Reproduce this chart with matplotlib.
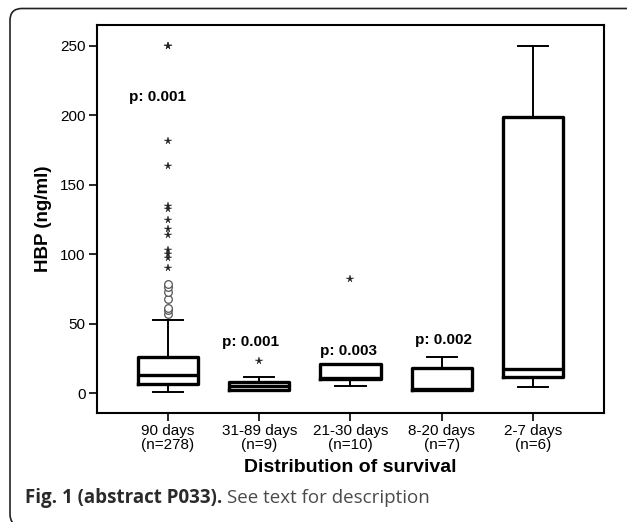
import matplotlib
matplotlib.use("Agg")
import matplotlib.pyplot as plt
from matplotlib.patches import FancyBboxPatch
from matplotlib.transforms import IdentityTransform

plt.rcParams['font.family'] = ['Liberation Sans', 'DejaVu Sans']

# groups and box summaries
groups = ["90 days\n(n=278)", "31-89 days\n(n=9)", "21-30 days\n(n=10)",
          "8-20 days\n(n=7)", "2-7 days\n(n=6)"]
whislo = [1.2, 2.4, 5.3, 2.2, 4.3]
q1 = [6.5, 2.6, 10.2, 2.4, 12.0]
med = [13.2, 5.3, 11.0, 3.0, 17.3]
q3 = [26.3, 8.1, 20.9, 18.0, 199.0]
whishi = [52.6, 11.9, 20.9, 26.1, 250.0]

# outliers: circles (mild) and stars (extreme), per group index
circle_grp = [0, 0, 0, 0, 0, 0, 0]
circle_val = [57.4, 59.8, 61.7, 67.5, 73.0, 76.6, 78.5]
star_grp = [0, 0, 0, 0, 0, 0, 0, 0, 0, 0, 0, 0, 0, 1, 2]
star_val = [90.2, 97.6, 100.5, 102.9, 113.6, 118.0, 124.4, 132.8, 134.7,
            163.4, 181.8, 250.0, 250.0, 23.3, 82.0]

# p-value annotations
p_text = ["p: 0.001", "p: 0.001", "p: 0.003", "p: 0.002"]
p_x = [0.89, 1.91, 2.98, 4.02]
p_y = [213, 37, 30.7, 38.4]

yticks = [0, 50, 100, 150, 200, 250]

fig = plt.figure(figsize=(6.27, 5.22), dpi=100)
ax = fig.add_axes([0.1542, 0.2082, 0.8096, 0.7439])

pos = list(range(1, len(groups) + 1))
stats = []
for i in range(len(groups)):
    stats.append(dict(whislo=whislo[i], q1=q1[i], med=med[i], q3=q3[i],
                      whishi=whishi[i], fliers=[]))

ax.bxp(stats, positions=pos, widths=0.66, capwidths=0.33, showfliers=False,
       boxprops=dict(color='black', linewidth=2.4),
       medianprops=dict(color='black', linewidth=2.4),
       whiskerprops=dict(color='black', linewidth=1.4),
       capprops=dict(color='black', linewidth=1.4))

ax.plot([pos[g] for g in circle_grp], circle_val, linestyle='none', marker='o',
        markersize=5.5, markerfacecolor='white', markeredgecolor='#555555',
        markeredgewidth=0.9)
ax.plot([pos[g] for g in star_grp], star_val, linestyle='none', marker='*',
        markersize=5.5, color='#222222', markeredgewidth=0.3)

for t, x, y in zip(p_text, p_x, p_y):
    ax.text(x, y, t, ha='center', va='center', fontsize=11, fontweight='bold')

ax.set_xlim(0.22, 5.78)
ax.set_ylim(-14.4, 265)
ax.set_yticks(yticks)
ax.set_xticks(pos)
ax.set_xticklabels(groups, fontsize=11, linespacing=0.95)
ax.tick_params(axis='y', labelsize=11)
ax.tick_params(direction='out', length=6, width=1.2, pad=2)
for s in ax.spines.values():
    s.set_linewidth(1.5)

ax.set_xlabel("Distribution of survival", fontsize=14, fontweight='bold',
              labelpad=5)
ax.set_ylabel("HBP (ng/ml)", fontsize=13.5, fontweight='bold', labelpad=6)

# rounded panel frame (only top-left part visible in the crop)
frame = FancyBboxPatch((10, -4), 640, 517.5,
                       boxstyle="round,pad=0,rounding_size=12",
                       transform=IdentityTransform(), fill=False,
                       edgecolor='#222222', linewidth=1.2)
fig.add_artist(frame)

# caption
cap1 = fig.text(25 / 627, 1 - 503 / 522, "Fig. 1 (abstract P033).",
                family='Open Sans', fontweight='bold', fontsize=13.5,
                color='#2a2a2a', va='baseline')
fig.canvas.draw()
bb = cap1.get_window_extent()
fig.text((bb.x1 + 5) / 627, 1 - 503 / 522, "See text for description",
         family='Open Sans', fontsize=13.5, color='#4a4a4a', va='baseline')

fig.savefig("out.png", dpi=100)
